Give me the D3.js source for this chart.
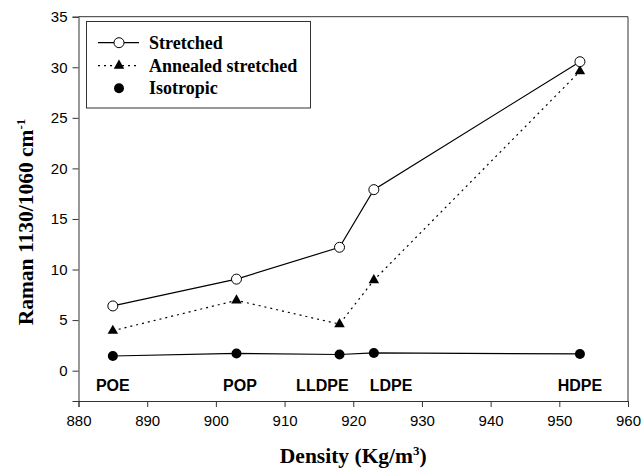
<!DOCTYPE html>
<html>
<head>
<meta charset="utf-8">
<script src="https://cdn.jsdelivr.net/npm/d3@7"></script>
<style>
  html, body { margin: 0; padding: 0; background: #fff; }
  svg { display: block; }
</style>
</head>
<body>
<svg id="chart" width="642" height="470"></svg>
<script>
// ---- data ----
const densities = [885, 903, 918, 923, 953];
const stretched = [6.4, 9.05, 12.2, 17.9, 30.55];
const annealed = [3.95, 6.95, 4.6, 8.95, 29.6];
const isotropic = [1.45, 1.7, 1.6, 1.75, 1.65];
const materials = ["POE", "POP", "LLDPE", "LDPE", "HDPE"];
const materialLabelX = [885, 903.5, 915.5, 925.5, 953];
const xTicks = [880, 890, 900, 910, 920, 930, 940, 950, 960];
const yTicks = [0, 5, 10, 15, 20, 25, 30, 35];
const seriesNames = ["Stretched", "Annealed stretched", "Isotropic"];

(function () {
// ---- layout ----
const svg = d3.select("#chart");
const pL = 78.5, pR = 628, pT = 16.7, pB = 401;
const x = d3.scaleLinear().domain([880, 960]).range([pL, pR]);
const y = d3.scaleLinear().domain([-3, 35]).range([pB, pT]);

const axisColor = "#333";
const serif = "'Liberation Serif', 'Times New Roman', serif";
const sans = "'Liberation Sans', Arial, sans-serif";

// frame (top and right)
svg.append("path")
  .attr("d", `M${pL},${pT}H${pR}V${pB}`)
  .attr("fill", "none").attr("stroke", axisColor).attr("stroke-width", 1);

// axes
const xAxis = svg.append("g").attr("transform", `translate(0,${pB})`)
  .call(d3.axisBottom(x).tickValues(xTicks).tickSize(6).tickPadding(8).tickFormat(d3.format("d")));
const yAxis = svg.append("g").attr("transform", `translate(${pL},0)`)
  .call(d3.axisLeft(y).tickValues(yTicks).tickSize(6).tickPadding(5).tickFormat(d3.format("d")));
[xAxis, yAxis].forEach(g => {
  g.select(".domain").attr("stroke", axisColor);
  g.selectAll(".tick line").attr("stroke", axisColor);
  g.selectAll(".tick text").attr("fill", "#000")
    .style("font-family", sans).style("font-size", "15px");
});

// axis titles
svg.append("text")
  .attr("x", (pL + pR) / 2).attr("y", 463)
  .attr("text-anchor", "middle")
  .style("font-family", serif)
  .style("font-weight", "bold").style("font-size", "21.5px")
  .html('Density (Kg/m<tspan dy="-8" font-size="13px">3</tspan><tspan dy="8">)</tspan>');

svg.append("text")
  .attr("transform", `translate(33,222) rotate(-90)`)
  .attr("text-anchor", "middle")
  .style("font-family", serif)
  .style("font-weight", "bold").style("font-size", "21.5px")
  .html('Raman 1130/1060 cm<tspan dy="-8" font-size="13px">-1</tspan>');

// material labels
svg.append("g").selectAll("text").data(materials).join("text")
  .attr("x", (d, i) => x(materialLabelX[i]))
  .attr("y", y(-2))
  .attr("text-anchor", "middle")
  .style("font-family", sans)
  .style("font-weight", "bold").style("font-size", "16px")
  .text(d => d);

// lines
const line = d3.line().x(d => x(d[0])).y(d => y(d[1]));
const zip = vals => densities.map((d, i) => [d, vals[i]]);

svg.append("path").datum(zip(isotropic)).attr("d", line)
  .attr("fill", "none").attr("stroke", "#000").attr("stroke-width", 1.2);
svg.append("path").datum(zip(annealed)).attr("d", line)
  .attr("fill", "none").attr("stroke", "#000").attr("stroke-width", 1.2)
  .attr("stroke-dasharray", "2,4");
svg.append("path").datum(zip(stretched)).attr("d", line)
  .attr("fill", "none").attr("stroke", "#000").attr("stroke-width", 1.2);

// markers
const tri = d3.symbol().type(d3.symbolTriangle).size(48);
svg.append("g").selectAll("circle").data(zip(isotropic)).join("circle")
  .attr("cx", d => x(d[0])).attr("cy", d => y(d[1])).attr("r", 5).attr("fill", "#000");
svg.append("g").selectAll("path").data(zip(annealed)).join("path")
  .attr("d", tri).attr("transform", d => `translate(${x(d[0])},${y(d[1])})`).attr("fill", "#000");
svg.append("g").selectAll("circle").data(zip(stretched)).join("circle")
  .attr("cx", d => x(d[0])).attr("cy", d => y(d[1])).attr("r", 5)
  .attr("fill", "#fff").attr("stroke", "#000").attr("stroke-width", 1);

// legend
const lg = svg.append("g");
lg.append("rect").attr("x", 86.5).attr("y", 21.5).attr("width", 224).attr("height", 86.5)
  .attr("fill", "#fff").attr("stroke", axisColor).attr("stroke-width", 1);
const rowY = [42.7, 65.7, 88.3];
seriesNames.forEach((name, i) => {
  const cy = rowY[i];
  if (i < 2) {
    lg.append("line").attr("x1", 98).attr("x2", 139).attr("y1", cy).attr("y2", cy)
      .attr("stroke", "#000").attr("stroke-width", 1.2)
      .attr("stroke-dasharray", i === 1 ? "2,4" : null);
  }
  if (i === 0) {
    lg.append("circle").attr("cx", 119).attr("cy", cy).attr("r", 5)
      .attr("fill", "#fff").attr("stroke", "#000");
  } else if (i === 1) {
    lg.append("path").attr("d", tri).attr("transform", `translate(119,${cy})`).attr("fill", "#000");
  } else {
    lg.append("circle").attr("cx", 119).attr("cy", cy).attr("r", 5).attr("fill", "#000");
  }
  lg.append("text").attr("x", 149).attr("y", cy + 6)
    .style("font-family", serif)
    .style("font-weight", "bold").style("font-size", "18px")
    .text(name);
});
})();
</script>
</body>
</html>
